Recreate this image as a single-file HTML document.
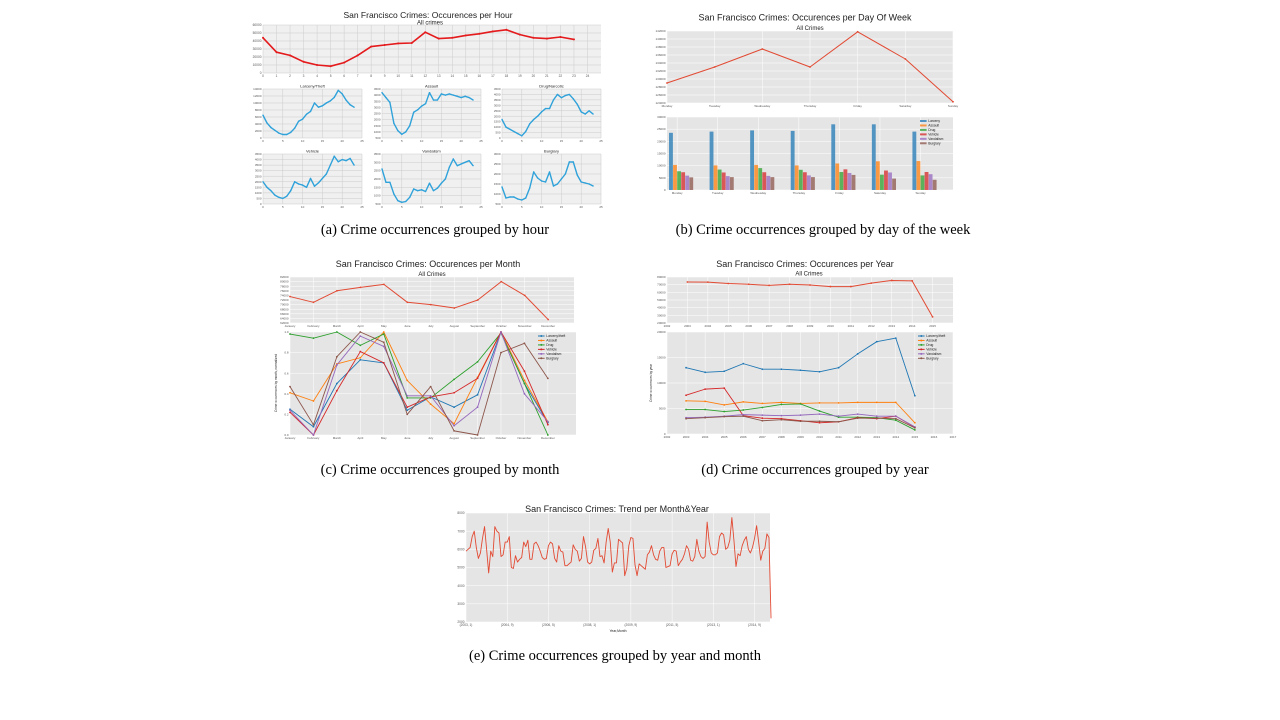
<!DOCTYPE html>
<html><head><meta charset="utf-8"><style>
body{margin:0;background:#fff;}
svg{display:block;font-family:"Liberation Sans",sans-serif;}
.cap{font-family:"Liberation Serif",serif;font-size:14.5px;fill:#000;}
</style></head><body>
<svg id="fig" width="1280" height="720" viewBox="0 0 1280 720" xmlns="http://www.w3.org/2000/svg">
<text class="cap" x="435" y="234" text-anchor="middle">(a) Crime occurrences grouped by hour</text>
<text class="cap" x="823" y="234" text-anchor="middle">(b) Crime occurrences grouped by day of the week</text>
<text class="cap" x="440" y="474" text-anchor="middle">(c) Crime occurrences grouped by month</text>
<text class="cap" x="815" y="474" text-anchor="middle">(d) Crime occurrences grouped by year</text>
<text class="cap" x="615" y="660" text-anchor="middle">(e) Crime occurrences grouped by year and month</text>
</svg>
<script>
// ---- data ----
const hours=[0,1,2,3,4,5,6,7,8,9,10,11,12,13,14,15,16,17,18,19,20,21,22,23];
const hourAll=[44000,26000,22000,14000,10000,8500,13000,22000,33000,35000,37000,37500,51000,43000,44000,47000,49000,52000,54000,48000,44000,43000,45000,42000];
const hourLarceny=[6500,4300,3000,2200,1400,1000,1000,1600,2800,4800,5400,6800,7600,10000,8800,9200,10000,10600,11600,13600,12600,10800,9500,8800];
const hourAssault=[4200,3800,3400,1700,1100,800,1000,1500,2600,2800,3100,3300,4200,3600,3600,4100,4000,4100,4000,3900,3800,3900,3800,3600];
const hourDrug=[1700,1000,800,600,400,200,600,1300,1700,2000,2400,2700,2700,3500,4000,3700,3900,4000,3600,3100,2400,2200,2500,2200];
const hourVehicle=[2000,1500,1200,800,600,500,700,1200,2000,1800,1700,1500,2300,1600,1900,2300,2700,3500,4300,3800,4000,3900,4100,3500];
const hourVandalism=[2600,1800,1800,1100,700,600,650,900,1400,1300,1350,1250,1750,1300,1450,1750,2000,2700,3200,2800,2900,3000,3100,2800];
const hourBurglary=[1350,800,850,850,750,700,800,1300,2100,1800,1650,1600,2100,1400,1500,1750,2000,2600,2600,1950,1600,1550,1500,1400];

const days=["Monday","Tuesday","Wednesday","Thursday","Friday","Saturday","Sunday"];
const dayAll=[129000,133000,137500,133000,141800,135000,124300];
const dayLarceny=[23500,24000,24500,24300,27000,27000,24000];
const dayAssault=[10300,10100,10300,10100,10900,11800,11900];
const dayDrug=[7700,8400,9000,8300,7400,6300,6000];
const dayVehicle=[7300,7200,7300,7300,8500,8000,7400];
const dayVandalism=[5900,5700,5800,6000,7000,7200,6500];
const dayBurglary=[5200,5300,5300,5300,6200,4700,4200];

const months=["January","February","March","April","May","June","July","August","September","October","November","December"];
const monthAll=[73500,71000,76000,77500,78800,71000,70000,68500,72000,80000,74000,63500];
const monthLarceny=[.25,.08,.5,.73,.7,.24,.37,.27,.39,1.0,.5,.12];
const monthAssault=[.41,.33,.69,.75,1.0,.53,.3,.11,.56,1.0,.53,.13];
const monthDrug=[.98,.94,1.0,.87,.98,.36,.36,.54,.71,.99,.5,0];
const monthVehicle=[.22,0,.43,.81,.7,.27,.37,.41,.55,1.0,.62,.1];
const monthVandalism=[.24,0,.68,.96,.86,.38,.38,.09,.27,1.0,.4,.13];
const monthBurglary=[.47,.1,.76,1.0,.9,.2,.47,.04,0,.8,.89,.55];

const years=[2003,2004,2005,2006,2007,2008,2009,2010,2011,2012,2013,2014,2015];
const yearAll=[73500,73300,71500,70500,69000,70500,69500,67500,67500,72000,75500,75000,28000];
const yearLarceny=[13000,12100,12300,13800,12700,12700,12500,12200,13000,15700,18100,18800,7500];
const yearAssault=[6500,6400,5700,6300,6000,6200,6000,6100,6100,6200,6200,6200,2200];
const yearDrug=[4800,4800,4400,4700,5200,5800,5900,4500,3300,3300,3200,2700,800];
const yearVehicle=[7600,8800,9000,3600,3100,3000,2600,2200,2400,3200,3000,3500,1300];
const yearVandalism=[3200,3300,3500,3800,3700,3600,3700,3900,3500,3900,3500,3500,1400];
const yearBurglary=[3000,3200,3400,3500,2600,2800,2500,2500,2400,3100,3100,3000,1200];

const trendValues=[5900,6000,6100,6700,7000,6100,5500,5800,6600,7250,6000,4700,5900,5600,7250,7000,6900,5600,5700,6400,6400,6700,5000,4950,5650,5300,5450,5550,6400,6150,6500,5450,5450,6300,6400,6200,5900,5550,5450,5500,6200,6400,6300,5500,5300,6200,5900,5850,5100,5100,5200,5300,6250,6000,5900,5350,5500,6700,6150,5300,5200,5300,5950,6050,6600,5600,5650,5250,6400,7150,6400,4750,5250,5250,6550,6450,6350,4550,4950,6200,6650,6600,5150,4550,5200,5100,5000,4900,5700,5850,6200,5700,5450,5400,5900,6100,6100,5000,5050,5100,5750,5950,5900,5100,5300,5450,5750,6200,6000,5400,5350,5600,6550,5900,5600,5500,5600,7500,6400,5800,5700,5700,5800,6700,6900,6800,6000,6100,6500,7750,6500,5050,5750,5650,6200,6500,6700,6000,5800,6100,6600,7300,6400,5400,5900,6050,6850,6650,2200];
const trendTicks=["(2003, 1)","(2004, 9)","(2006, 5)","(2008, 1)","(2009, 9)","(2011, 5)","(2013, 1)","(2014, 9)"];

const seriesNames=["Larceny/theft","Assault","Drug","Vehicle","Vandalism","Burglary"];
const barNames=["Larceny","Assault","Drug","Vehicle","Vandalism","Burglary"];
const colors=["#1f77b4","#ff7f0e","#2ca02c","#d62728","#9467bd","#8c564b"];

// ---- helpers ----
const NS="http://www.w3.org/2000/svg";
const svg=document.getElementById('fig');
function el(tag,attrs,parent,txt){const e=document.createElementNS(NS,tag);for(const k in attrs)e.setAttribute(k,attrs[k]);if(txt!==undefined)e.textContent=txt;(parent||svg).appendChild(e);return e;}
function lin(d0,d1,r0,r1){return v=>r0+(v-d0)/(d1-d0)*(r1-r0);}
function axes(name,x0,y0,x1,y1,bg,grid,xd,yd,xticks,yticks,xlabels,ylabels,fs){
  const g=el('g',{},svg);
  
  
  el('rect',{x:x0,y:y0,width:x1-x0,height:y1-y0,fill:bg},g);
  const sx=lin(xd[0],xd[1],x0,x1), sy=lin(yd[0],yd[1],y1,y0);
  xticks.forEach((t,i)=>{const x=sx(t);el('line',{x1:x,x2:x,y1:y0,y2:y1,stroke:grid,'stroke-width':0.5},g);
    const tx=el('text',{x:x,y:y1+fs+1,'font-size':fs,'text-anchor':'middle',fill:'#555'},g,xlabels?xlabels[i]:t);
    });
  yticks.forEach((t,i)=>{const y=sy(t);el('line',{x1:x0,x2:x1,y1:y,y2:y,stroke:grid,'stroke-width':0.5},g);
    const ty=el('text',{x:x0-1.5,y:y+fs*0.35,'font-size':fs,'text-anchor':'end',fill:'#555'},g,ylabels?ylabels[i]:t);
    });
  return {g,sx,sy};
}
function line(ax,xs,ys,color,w,marker,name){
  const pts=xs.map((x,i)=>ax.sx(x).toFixed(2)+','+ax.sy(ys[i]).toFixed(2)).join(' ');
  const p=el('polyline',{points:pts,fill:'none',stroke:color,'stroke-width':w,'stroke-linejoin':'round'},ax.g);
  
  if(marker) xs.forEach((x,i)=>{const c=el('circle',{cx:ax.sx(x),cy:ax.sy(ys[i]),r:marker,fill:color},ax.g);
    });
}
function text(x,y,s,fs,name,anchor,color){const t=el('text',{x:x,y:y,'font-size':fs,'text-anchor':anchor||'middle',fill:color||'#222'},svg,s);
  return t;}
function rng(a,b,s){const r=[];for(let v=a;v<=b+1e-9;v+=s)r.push(v);return r;}
function legend(x,y,names,fs,name,isBar){
  const g=el('g',{},svg);
  names.forEach((n,i)=>{const yy=y+i*fs*1.35;
    if(isBar) el('rect',{x:x,y:yy-fs*0.6,width:fs*2,height:fs*0.6,fill:colors[i],opacity:0.75},g);
    else {el('line',{x1:x,x2:x+fs*2,y1:yy-fs*0.3,y2:yy-fs*0.3,stroke:colors[i],'stroke-width':1},g);el('circle',{cx:x+fs,cy:yy-fs*0.3,r:fs*0.3,fill:colors[i]},g);}
    const t=el('text',{x:x+fs*2.5,y:yy,'font-size':fs,fill:'#222'},g,n);
    });
}

// ---- (a) hour ----
text(428,18,"San Francisco Crimes: Occurences per Hour",8.5,"title-a");
text(430,24.5,"All crimes",6,"subtitle-a");
{const ax=axes('hour-all-axes',263,25,601,73,'#f0f0f0','#cbcbcb',[0,25],[0,60000],rng(0,24,1),rng(0,60000,10000),null,null,3.2);
 line(ax,hours,hourAll,'#e41a1c',1.6,1,'hour-all-line');}
const small=[
 ["Larceny/Theft",hourLarceny,263,89,362,138,[0,14000],2000],
 ["Assault",hourAssault,382,89,481,138,[500,4500],500],
 ["Drug/Narcotic",hourDrug,502,89,601,138,[0,4500],500],
 ["Vehicle",hourVehicle,263,154,362,204,[0,4500],500],
 ["Vandalism",hourVandalism,382,154,481,204,[500,3500],500],
 ["Burglary",hourBurglary,502,154,601,204,[500,3000],500]];
small.forEach(s=>{
 text((s[2]+s[4])/2,s[3]-1.5,s[0],4,'subplot-title');
 const ax=axes('hour-'+s[0].toLowerCase().replace('/','-')+'-axes',s[2],s[3],s[4],s[5],'#f0f0f0','#cbcbcb',[0,25],s[6],rng(0,25,5),rng(s[6][0],s[6][1],s[7]),null,null,3);
 line(ax,hours,s[1],'#30a2da',1.4,0.7,'hour-line');
});

// ---- (b) day of week ----
text(805,20.5,"San Francisco Crimes: Occurences per Day Of Week",9,"title-b");
text(810,30,"All Crimes",6,"subtitle-b");
{const ax=axes('day-all-axes',667,31,953,103,'#e5e5e5','#ffffff',[0,6],[124000,142000],[0,1,2,3,4,5,6],rng(124000,142000,2000),days,null,3);
 line(ax,[0,1,2,3,4,5,6],dayAll,'#e24a33',1,0.9,'day-all-line');}
{const ax=axes('day-bar-axes',667,117,953,190,'#e5e5e5','#ffffff',[-0.05,7],[0,30000],[0.2,1.2,2.2,3.2,4.2,5.2,6.2],rng(0,30000,5000),days,null,3);
 const ser=[dayLarceny,dayAssault,dayDrug,dayVehicle,dayVandalism,dayBurglary];
 const bw=(ax.sx(1)-ax.sx(0))*0.1;
 ser.forEach((d,k)=>d.forEach((v,i)=>{const x=ax.sx(i)+k*bw;const r=el('rect',{x:x,y:ax.sy(v),width:bw*0.95,height:ax.sy(0)-ax.sy(v),fill:colors[k],opacity:0.75},ax.g);
  }));
 legend(920,122,barNames,3.3,'day-legend',true);}

// ---- (c) month ----
text(428,267,"San Francisco Crimes: Occurences per Month",9,"title-c");
text(432,276,"All Crimes",6,"subtitle-c");
const mIdx=months.map((m,i)=>i);
{const ax=axes('month-all-axes',290,277,574,323,'#e5e5e5','#ffffff',[0,12.1],[62000,82000],mIdx,rng(62000,82000,2000),months,null,3);
 line(ax,mIdx,monthAll,'#e24a33',1,0.9,'month-all-line');}
{const ax=axes('month-norm-axes',290,332,576,435,'#e5e5e5','#ffffff',[0,12.2],[0,1],mIdx,rng(0,1,0.2),months,["0.0","0.2","0.4","0.6","0.8","1.0"],3);
 [monthLarceny,monthAssault,monthDrug,monthVehicle,monthVandalism,monthBurglary].forEach((d,k)=>line(ax,mIdx,d,colors[k],0.9,0.9,'month-line-'+barNames[k].toLowerCase()));
 const yt=text(277,383,"Crime occurrences by month, normalized",3.2,'y-axis-title');yt.setAttribute('transform','rotate(-90 277 383)');
 legend(538,337,seriesNames,3.3,'month-legend',false);}

// ---- (d) year ----
text(805,267,"San Francisco Crimes: Occurences per Year",9,"title-d");
text(809,275.5,"All Crimes",6,"subtitle-d");
{const ax=axes('year-all-axes',667,277,953,323,'#e5e5e5','#ffffff',[2002,2016],[20000,80000],rng(2002,2015,1),rng(20000,80000,10000),null,null,3);
 line(ax,years,yearAll,'#e24a33',1,0.9,'year-all-line');}
{const ax=axes('year-type-axes',667,332,953,434,'#e5e5e5','#ffffff',[2002,2017],[0,20000],rng(2002,2017,1),rng(0,20000,5000),null,null,3);
 [yearLarceny,yearAssault,yearDrug,yearVehicle,yearVandalism,yearBurglary].forEach((d,k)=>line(ax,years,d,colors[k],0.9,0.9,'year-line-'+barNames[k].toLowerCase()));
 const yt=text(652,383,"Crime occurrences by year",3.2,'y-axis-title');yt.setAttribute('transform','rotate(-90 652 383)');
 legend(918,337,seriesNames,3.3,'year-legend',false);}

// ---- (e) trend ----
text(617,512,"San Francisco Crimes: Trend per Month&Year",9,"title-e");
{const idx=trendValues.map((v,i)=>i);
 const ax=axes('trend-axes',466,513,770,622,'#e5e5e5','#ffffff',[0,147.5],[2000,8000],[0,20,40,60,80,100,120,140],rng(2000,8000,1000),trendTicks,null,3.2);
 line(ax,idx,trendValues,'#e24a33',0.9,0,'trend-line');
 text(618,632,"Year,Month",3.4,'x-axis-title');}
</script>
</body></html>
